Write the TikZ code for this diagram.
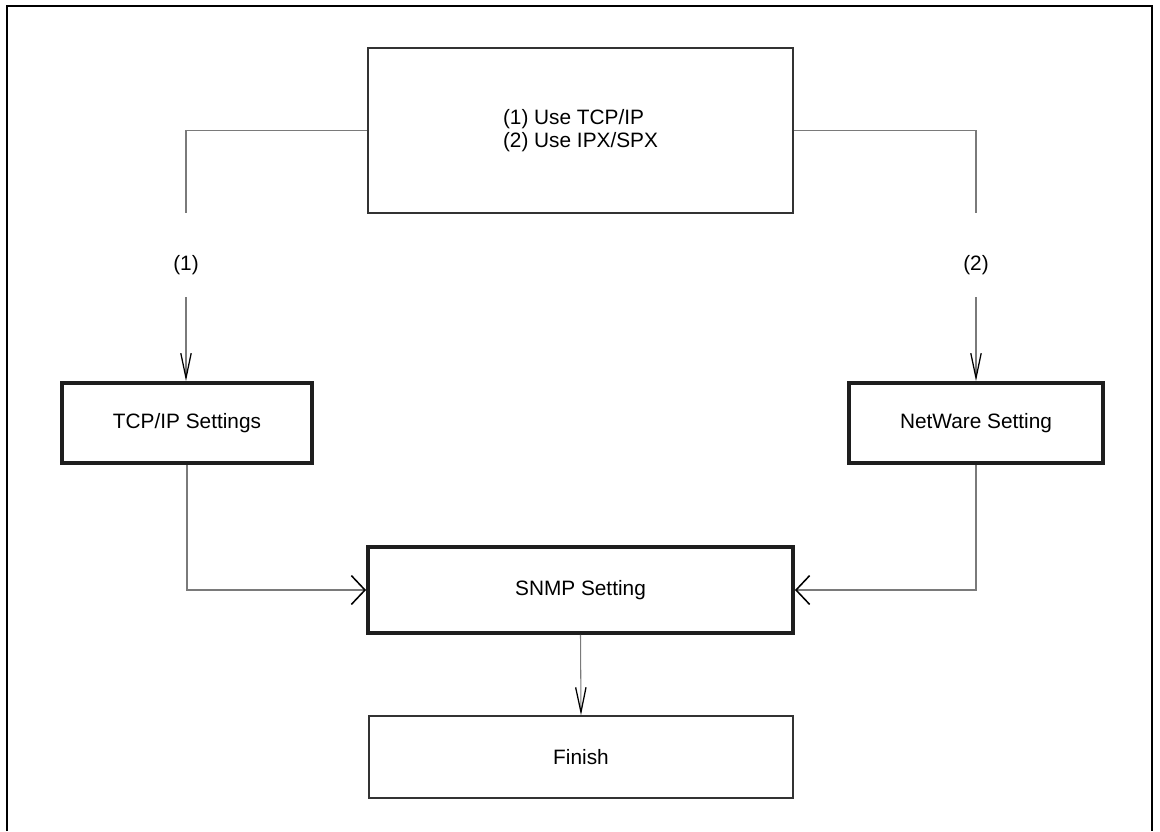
\documentclass[tikz,border=0pt]{standalone}
\usepackage{fontspec}
\setmainfont{Liberation Sans}
\usetikzlibrary{arrows.meta,positioning}
\definecolor{linkgrey}{HTML}{7A7A7A}
\definecolor{boxdark}{HTML}{333333}
\definecolor{edgeblack}{HTML}{1E1E1E}

\begin{document}
\begin{tikzpicture}[x=0.025cm,y=-0.025cm,
      font=\fontsize{14.8}{16.3}\selectfont,
      plain/.style={draw=boxdark,line width=1.1pt,align=left,inner sep=0pt},
      heavy/.style={draw=edgeblack,line width=2.7pt,align=center,inner sep=0pt},
      lbl/.style={inner sep=0pt,minimum height=2.1cm,text height=0.75cm,text depth=0pt},
      vfl/.style={-{Straight Barb[length=6.2mm,width=2.6mm,black,line width=0.9pt]},linkgrey,line width=0.75pt},
      hfl/.style={-{Straight Barb[length=3.4mm,width=7.2mm,black,line width=1.1pt]},linkgrey,line width=0.75pt},
      wire/.style={linkgrey,line width=0.75pt}]
    \useasboundingbox (0,0) rectangle (1160,831);
    \draw[line width=1.9pt] (7,831) -- (7,6) -- (1152,6) -- (1152,831);
    \node[plain,minimum width=10.625cm,minimum height=4.125cm] (top) at (580.5,130.5)
      {(1) Use TCP/IP\\(2) Use IPX/SPX};
    \node[lbl] (one) at (186,255) {(1)};
    \node[lbl] (two) at (976,255) {(2)};
    \node[heavy,minimum width=6.25cm,minimum height=2cm] (tcp) at (187,423) {TCP/IP Settings};
    \node[heavy,minimum width=6.35cm,minimum height=2cm] (nw) at (976,423) {NetWare Setting};
    \node[heavy,minimum width=10.625cm,minimum height=2.15cm] (snmp) at (580.5,590) {SNMP Setting};
    \node[plain,align=center,minimum width=10.6cm,minimum height=2.05cm] (fin) at (581,757) {Finish};
    \draw[wire] (top.west) -| (one.north);
    \draw[wire] (top.east) -| (two.north);
    \draw[vfl] (one.south) -- (one.south |- tcp.north);
    \draw[vfl] (two.south) -- (two.south |- nw.north);
    \draw[hfl] (tcp.south) |- (snmp.west);
    \draw[hfl] (nw.south) |- (snmp.east);
    \draw[vfl] (snmp.south) -- (fin.north);
  \end{tikzpicture}
\end{document}
